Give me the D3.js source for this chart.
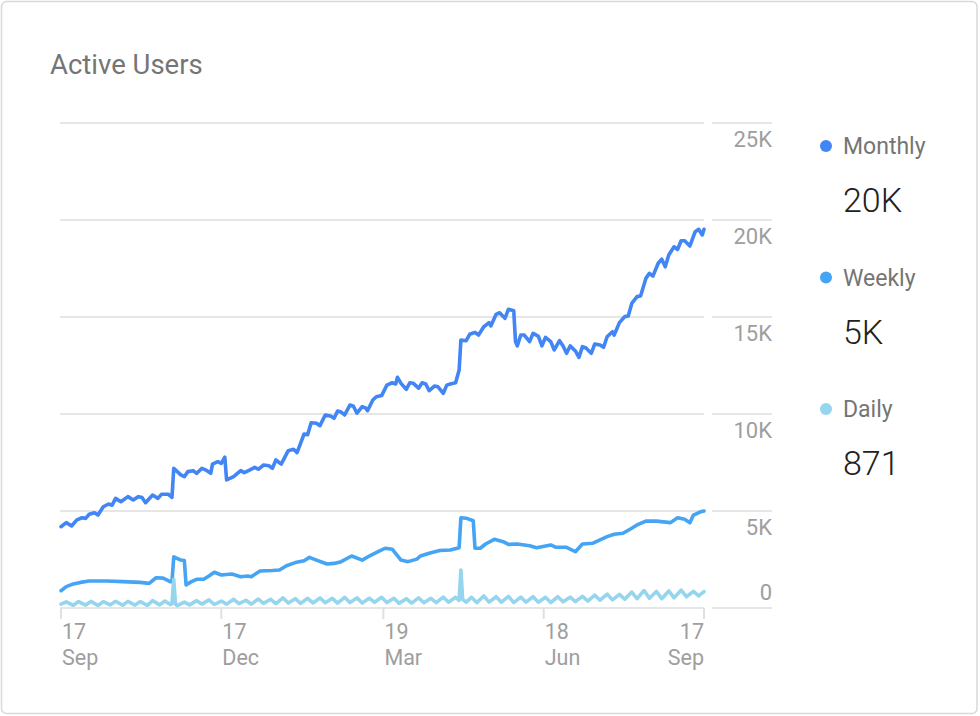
<!DOCTYPE html>
<html>
<head>
<meta charset="utf-8">
<script src="https://cdn.jsdelivr.net/npm/d3@7"></script>
<style>
  html, body { margin: 0; padding: 0; background: #fff; }
  svg { display: block; font-family: Roboto, "Noto Sans", sans-serif; }
</style>
</head>
<body>
<svg id="chart" width="980" height="716"></svg>
<script>
// ---- DATA ----
const startDate = "2017-09-17";
const endDate = "2018-09-17";
const seriesNames = ["Monthly", "Weekly", "Daily"];
const seriesColors = ["#4285F4", "#45A4F4", "#95D5ED"];
const legendValues = ["20K", "5K", "871"];
const yTickValues = [0, 5000, 10000, 15000, 20000, 25000];
const yTickLabels = ["0", "5K", "10K", "15K", "20K", "25K"];
const xTickDates = ["2017-09-17", "2017-12-17", "2018-03-19", "2018-06-18", "2018-09-17"];
const xTickDays = ["17", "17", "19", "18", "17"];
const xTickMonths = ["Sep", "Dec", "Mar", "Jun", "Sep"];

// [day offset from start, value in thousands]
const monthly = [[0,4.19],[3,4.40],[6,4.23],[9,4.54],[12,4.65],[14,4.62],[16,4.83],[19,4.91],[21,4.79],[24,5.22],[27,5.36],[29,5.30],[31,5.65],[34,5.48],[38,5.74],[41,5.57],[44,5.74],[46,5.70],[48,5.43],[52,5.82],[55,5.65],[57,5.86],[61,5.86],[63,5.70],[64,7.20],[68,6.86],[70,6.77],[72,7.03],[75,7.08],[77,6.94],[80,7.20],[82,7.12],[85,6.94],[86,7.42],[89,7.54],[91,7.45],[93,7.77],[94,6.60],[98,6.77],[102,7.08],[104,6.98],[107,7.11],[110,7.25],[112,7.15],[115,7.37],[118,7.33],[120,7.20],[122,7.63],[125,7.42],[129,8.11],[132,8.18],[134,8.01],[138,8.97],[140,8.93],[142,9.55],[145,9.52],[147,9.40],[150,9.95],[153,9.90],[155,9.78],[157,10.15],[159,10.10],[161,9.95],[164,10.46],[166,10.40],[168,10.04],[171,10.38],[173,10.30],[174,10.17],[177,10.72],[179,10.89],[182,10.95],[185,11.49],[188,11.61],[190,11.55],[191,11.89],[193,11.58],[196,11.27],[198,11.61],[200,11.58],[203,11.33],[205,11.61],[207,11.55],[209,11.20],[212,11.44],[214,11.40],[217,11.07],[219,11.49],[221,11.55],[224,11.61],[226,12.27],[227,13.81],[230,13.78],[232,14.11],[235,14.21],[237,14.07],[240,14.50],[243,14.71],[244,14.54],[247,15.14],[249,15.22],[252,14.93],[254,15.40],[257,15.32],[258,13.73],[259,13.51],[261,14.07],[263,14.07],[266,13.73],[268,14.16],[271,14.00],[273,13.51],[275,13.95],[278,13.73],[280,13.30],[283,13.78],[285,13.51],[287,13.13],[289,13.51],[292,13.25],[294,12.92],[296,13.47],[298,13.40],[301,13.13],[303,13.61],[306,13.56],[308,13.44],[310,13.98],[313,14.24],[314,14.07],[317,14.71],[320,15.02],[322,15.05],[324,15.70],[327,16.05],[329,16.08],[332,16.99],[334,17.25],[336,17.11],[339,17.77],[341,17.98],[343,17.59],[345,18.20],[348,18.62],[350,18.48],[352,18.93],[354,18.93],[357,18.66],[360,19.40],[362,19.52],[364,19.23],[365,19.52]];

const weekly = [[0,0.89],[3,1.10],[7,1.24],[11,1.32],[16,1.39],[26,1.39],[35,1.36],[45,1.32],[50,1.27],[54,1.56],[58,1.54],[62,1.36],[63,1.36],[64,2.64],[68,2.47],[70,2.45],[71,1.19],[74,1.36],[77,1.48],[81,1.48],[84,1.65],[87,1.84],[91,1.70],[97,1.75],[102,1.61],[106,1.65],[108,1.61],[113,1.91],[120,1.93],[124,1.96],[128,2.18],[133,2.34],[138,2.44],[141,2.61],[145,2.47],[151,2.27],[155,2.30],[159,2.39],[165,2.68],[171,2.47],[175,2.68],[180,2.90],[184,3.08],[188,3.03],[193,2.47],[197,2.39],[202,2.52],[204,2.68],[209,2.82],[215,2.96],[221,2.99],[226,3.11],[227,4.65],[230,4.63],[234,4.50],[235,3.08],[238,3.08],[241,3.30],[246,3.54],[251,3.42],[254,3.28],[259,3.30],[266,3.21],[270,3.11],[278,3.25],[281,3.13],[287,3.13],[292,2.90],[296,3.30],[302,3.34],[310,3.68],[314,3.80],[319,3.85],[323,4.06],[327,4.28],[332,4.48],[338,4.48],[346,4.40],[350,4.65],[354,4.58],[357,4.40],[359,4.79],[363,4.96],[365,5.00]];

const daily = [[0,0.20],[3,0.32],[7,0.14],[10,0.33],[14,0.15],[17,0.34],[21,0.13],[24,0.33],[28,0.16],[31,0.35],[35,0.14],[38,0.34],[42,0.15],[45,0.33],[49,0.14],[52,0.38],[56,0.16],[59,0.36],[62,0.18],[63,0.22],[64,1.48],[65,0.20],[66,0.12],[70,0.30],[73,0.16],[77,0.38],[80,0.20],[84,0.42],[87,0.18],[91,0.36],[94,0.20],[98,0.45],[101,0.22],[105,0.40],[108,0.20],[112,0.46],[115,0.24],[119,0.45],[122,0.22],[126,0.52],[129,0.26],[133,0.48],[136,0.24],[140,0.50],[143,0.26],[147,0.52],[150,0.27],[154,0.50],[157,0.25],[161,0.55],[164,0.28],[168,0.52],[171,0.26],[175,0.50],[178,0.30],[182,0.55],[185,0.28],[189,0.50],[192,0.24],[196,0.48],[199,0.25],[203,0.52],[206,0.27],[210,0.50],[213,0.28],[217,0.56],[220,0.30],[224,0.55],[226,0.40],[227,1.96],[228,0.45],[230,0.30],[233,0.55],[236,0.28],[240,0.62],[243,0.30],[247,0.58],[250,0.30],[254,0.60],[257,0.28],[261,0.56],[264,0.30],[268,0.58],[271,0.30],[275,0.55],[278,0.28],[282,0.58],[285,0.32],[289,0.56],[292,0.33],[296,0.60],[299,0.36],[303,0.66],[306,0.40],[310,0.72],[313,0.42],[317,0.70],[320,0.45],[324,0.82],[327,0.48],[331,0.90],[334,0.50],[338,0.85],[341,0.48],[345,0.88],[348,0.52],[352,0.92],[355,0.58],[359,0.86],[362,0.62],[365,0.84]];

const seriesData = [monthly, weekly, daily];

// ---- CHART ----
const svg = d3.select("#chart");
const parse = d3.timeParse("%Y-%m-%d");
const t0 = parse(startDate), t1 = parse(endDate);

const x = d3.scaleTime().domain([t0, t1]).range([61, 704]);
const y = d3.scaleLinear().domain([0, 25000]).range([608, 123]);

// card
svg.append("rect")
  .attr("x", 1.5).attr("y", 1.5).attr("width", 975.5).attr("height", 712)
  .attr("rx", 5).attr("fill", "#fff").attr("stroke", "#d9d9d9").attr("stroke-width", 1.5);

// title
svg.append("text").attr("x", 50).attr("y", 74)
  .attr("font-size", 27.5).attr("fill", "#757575").text("Active Users");

// gridlines (plot part + label part)
const grid = svg.append("g");
yTickValues.forEach((v, i) => {
  grid.append("line").attr("x1", 60).attr("x2", 704)
    .attr("y1", y(v)).attr("y2", y(v))
    .attr("stroke", "#e6e6e6").attr("stroke-width", 2);
  grid.append("line").attr("x1", 712).attr("x2", 772)
    .attr("y1", y(v)).attr("y2", y(v))
    .attr("stroke", "#e6e6e6").attr("stroke-width", 2);
  grid.append("text")
    .attr("x", 772)
    .attr("y", v === 0 ? y(v) - 8 : y(v) + 24)
    .attr("text-anchor", "end")
    .attr("font-size", 22).attr("fill", "#9e9e9e")
    .text(yTickLabels[i]);
});

// x ticks
const xt = svg.append("g");
xTickDates.forEach((ds, i) => {
  const xv = x(parse(ds));
  xt.append("line").attr("x1", xv).attr("x2", xv).attr("y1", 608).attr("y2", 619)
    .attr("stroke", "#e0e0e0").attr("stroke-width", 2);
  const last = i === xTickDates.length - 1;
  const tx = last ? xv : xv + 1;
  const anchor = last ? "end" : "start";
  xt.append("text").attr("x", tx).attr("y", 639).attr("text-anchor", anchor)
    .attr("font-size", 21.5).attr("fill", "#9e9e9e").text(xTickDays[i]);
  xt.append("text").attr("x", tx).attr("y", 665).attr("text-anchor", anchor)
    .attr("font-size", 21.5).attr("fill", "#9e9e9e").text(xTickMonths[i]);
});

// lines
const line = d3.line()
  .x(d => x(d3.timeDay.offset(t0, d[0])))
  .y(d => y(d[1] * 1000));

seriesData.forEach((data, i) => {
  svg.append("path")
    .datum(data)
    .attr("d", line)
    .attr("fill", "none")
    .attr("stroke", seriesColors[i])
    .attr("stroke-width", 3.6)
    .attr("stroke-linejoin", "round")
    .attr("stroke-linecap", "round");
});

// legend
const lg = svg.append("g");
seriesNames.forEach((name, i) => {
  const cy = 146 + i * 131.5;
  lg.append("circle").attr("cx", 826).attr("cy", cy).attr("r", 6)
    .attr("fill", seriesColors[i]);
  lg.append("text").attr("x", 843).attr("y", cy + 8)
    .attr("font-size", 23).attr("fill", "#757575").text(name);
  lg.append("text").attr("x", 843).attr("y", cy + 66)
    .attr("font-size", 34).attr("font-weight", 300).attr("fill", "#212121").text(legendValues[i]);
});
</script>
</body>
</html>
